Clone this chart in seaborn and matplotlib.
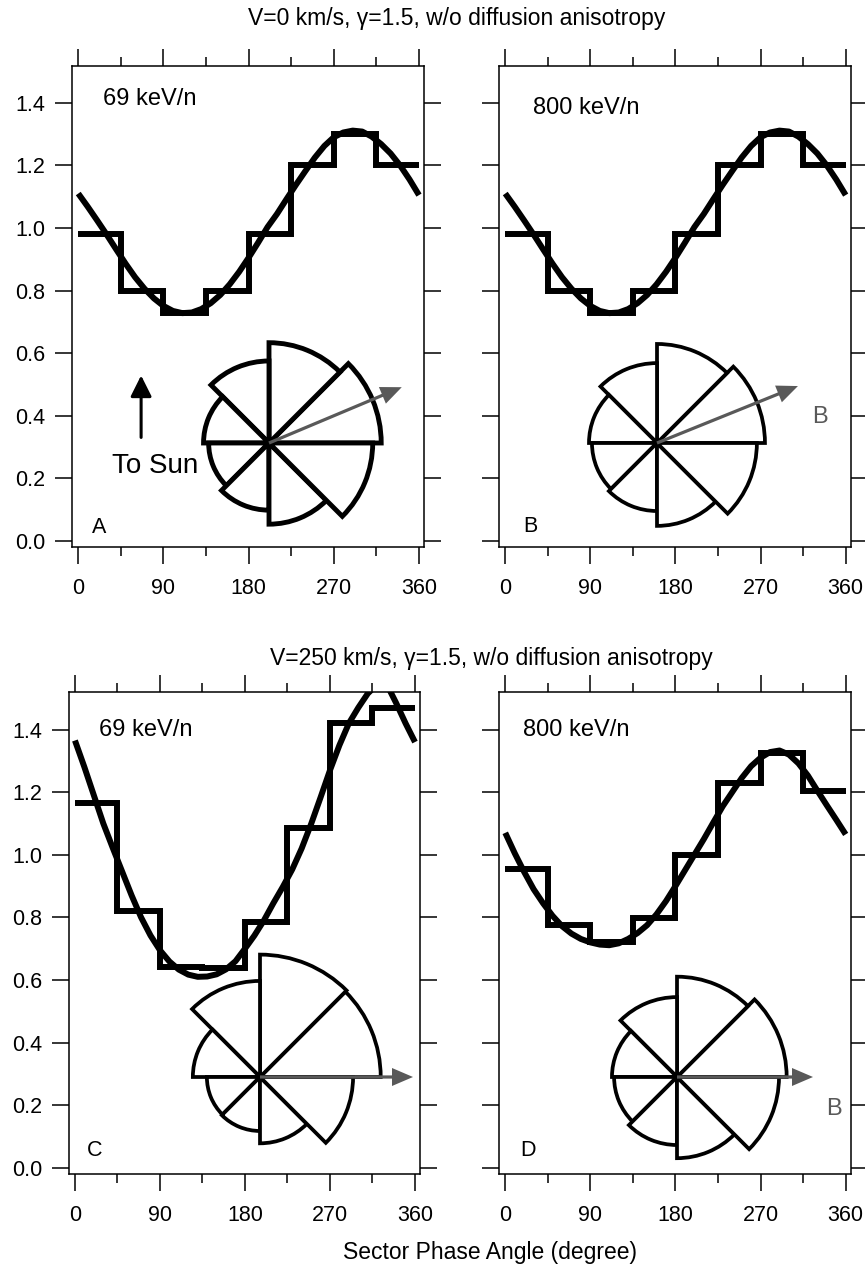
import matplotlib
matplotlib.use("Agg")
import matplotlib.pyplot as plt
import seaborn as sns
import numpy as np
from matplotlib.patches import Wedge
from matplotlib.ticker import FixedLocator

sns.set_style("ticks", rc={"axes.edgecolor": "black", "xtick.color": "black",
                           "ytick.color": "black", "text.color": "black",
                           "axes.labelcolor": "black"})
plt.rcParams['font.family'] = ['Liberation Sans', 'DejaVu Sans']

# ---------------- data ----------------
sector_edges = [0, 45, 90, 135, 180, 225, 270, 315, 360]
curve_phase = [0, 10, 20, 30, 40, 50, 60, 70, 80, 90, 100, 110, 120, 130, 140,
               150, 160, 170, 180, 190, 200, 210, 220, 230, 240, 250, 260, 270,
               280, 290, 300, 310, 320, 330, 340, 350, 360]
x_major = [0, 90, 180, 270, 360]
x_minor = [45, 135, 225, 315]
y_ticks = [0.0, 0.2, 0.4, 0.6, 0.8, 1.0, 1.2, 1.4]
y_tick_labels = ["0.0", "0.2", "0.4", "0.6", "0.8", "1.0", "1.2", "1.4"]

steps_A = [0.98, 0.80, 0.73, 0.80, 0.98, 1.20, 1.30, 1.20]
steps_B = [0.98, 0.80, 0.73, 0.80, 0.98, 1.20, 1.30, 1.20]
steps_C = [1.165, 0.82, 0.642, 0.637, 0.786, 1.085, 1.42, 1.47]
steps_D = [0.956, 0.775, 0.722, 0.797, 1.00, 1.228, 1.325, 1.205]

curve_A = [1.110, 1.068, 1.024, 0.979, 0.932, 0.886, 0.843, 0.806, 0.775, 0.751,
           0.735, 0.728, 0.730, 0.741, 0.760, 0.786, 0.820, 0.860, 0.905, 0.953,
           1.003, 1.045, 1.092, 1.138, 1.182, 1.225, 1.262, 1.290, 1.305, 1.311,
           1.308, 1.292, 1.268, 1.238, 1.200, 1.155, 1.105]
curve_B = [1.110, 1.068, 1.024, 0.979, 0.932, 0.886, 0.843, 0.806, 0.775, 0.751,
           0.735, 0.728, 0.730, 0.741, 0.760, 0.786, 0.820, 0.860, 0.905, 0.953,
           1.003, 1.045, 1.092, 1.138, 1.182, 1.225, 1.262, 1.290, 1.305, 1.311,
           1.308, 1.292, 1.268, 1.238, 1.200, 1.155, 1.105]
curve_C = [1.365, 1.280, 1.190, 1.100, 1.022, 0.946, 0.870, 0.800, 0.742, 0.695,
           0.659, 0.633, 0.617, 0.610, 0.611, 0.618, 0.634, 0.660, 0.700, 0.742,
           0.790, 0.845, 0.897, 0.953, 1.020, 1.098, 1.183, 1.270, 1.350, 1.420,
           1.470, 1.515, 1.545, 1.545, 1.485, 1.420, 1.360]
curve_D = [1.070, 1.005, 0.945, 0.890, 0.845, 0.805, 0.772, 0.748, 0.731, 0.720,
           0.713, 0.711, 0.717, 0.731, 0.750, 0.775, 0.810, 0.852, 0.900, 0.950,
           1.000, 1.050, 1.103, 1.155, 1.200, 1.245, 1.283, 1.310, 1.328, 1.333,
           1.320, 1.292, 1.253, 1.205, 1.158, 1.112, 1.065]

# rose diagrams: relative intensity per 45-degree sector, counter-clockwise from east
rose_A = [1.32, 1.18, 0.965, 0.77, 0.71, 0.79, 0.955, 1.22]
rose_B = [1.27, 1.165, 0.94, 0.80, 0.765, 0.80, 0.975, 1.175]
rose_C = [1.42, 1.44, 1.13, 0.79, 0.625, 0.635, 0.78, 1.095]
rose_D = [1.29, 1.18, 0.94, 0.765, 0.74, 0.80, 0.955, 1.20]
b_angle = [22.8, 22.0, 0.0, 0.0]   # IMF direction (deg) in each rose

panel_energy = ["69 keV/n", "800 keV/n", "69 keV/n", "800 keV/n"]
panel_letter = ["A", "B", "C", "D"]
row_titles = ["V=0 km/s, γ=1.5, w/o diffusion anisotropy",
              "V=250 km/s, γ=1.5, w/o diffusion anisotropy"]
x_label = "Sector Phase Angle (degree)"

# ---------------- layout ----------------
W, H = 865, 1269
fig = plt.figure(figsize=(W / 100, H / 100), dpi=100)


def px_axes(l, t, r, b):
    return fig.add_axes([l / W, 1 - b / H, (r - l) / W, (b - t) / H])


panel_box = [(72.3, 65.5, 424, 547), (499.3, 65.5, 850.7, 547),
             (69, 692.3, 420, 1173.7), (499.3, 692.3, 850.7, 1173.7)]
rose_center = [(269, 443), (657, 443), (260, 1077), (677, 1077)]
arrow_len = [144, 152, 153, 136]
rose_lw = [3.5, 2.7, 2.7, 2.7]
energy_pos = [(26, 1.412), (29.6, 1.382), (25.5, 1.398), (19, 1.40)]
letter_pos = [(14.5, 0.042), (19, 0.048), (12.3, 0.055), (15.8, 0.055)]
SCALE = 85.0  # px per unit intensity in rose
GRAY = "#595959"

steps = [steps_A, steps_B, steps_C, steps_D]
curves = [curve_A, curve_B, curve_C, curve_D]
roses = [rose_A, rose_B, rose_C, rose_D]

LW = 4.3
for i in range(4):
    ax = px_axes(*panel_box[i])
    sx = sector_edges
    sy = steps[i] + [steps[i][-1]]
    sns.lineplot(x=sx, y=sy, ax=ax, color="black", lw=LW, drawstyle="steps-post",
                 estimator=None, sort=False, errorbar=None,
                 solid_joinstyle="miter", solid_capstyle="butt")
    sns.lineplot(x=curve_phase, y=curves[i], ax=ax, color="black", lw=LW,
                 estimator=None, sort=False, errorbar=None,
                 solid_joinstyle="round", solid_capstyle="butt")
    ax.set_xlim(-6.3, 365.3)
    ax.set_ylim(-0.019, 1.519)
    ax.set_xticks(x_major)
    ax.set_xticklabels([str(v) for v in x_major])
    ax.xaxis.set_minor_locator(FixedLocator(x_minor))
    ax.set_yticks(y_ticks)
    ax.set_yticklabels(y_tick_labels)
    ax.tick_params(which="both", direction="out", top=True, right=True,
                   labeltop=False, labelright=False, width=1.1, labelsize=15.5,
                   labelleft=(i % 2 == 0))
    ax.tick_params(which="major", length=12.5)
    ax.tick_params(which="minor", length=6.5)
    ax.tick_params(axis="x", pad=10)
    ax.tick_params(axis="y", pad=7)
    for s in ax.spines.values():
        s.set_linewidth(1.1)
        s.set_visible(True)
    ax.set_xlabel("")
    ax.set_ylabel("")
    ax.text(*energy_pos[i], panel_energy[i], fontsize=17, ha="left", va="center")
    ax.text(*letter_pos[i], panel_letter[i], fontsize=15.5, ha="left", va="center")

    if i == 0:
        ax.annotate("", xy=(66.4, 0.529), xytext=(66.4, 0.331),
                    arrowprops=dict(arrowstyle="-|>", color="black", lw=2.2,
                                    mutation_scale=32, shrinkA=0, shrinkB=0))
        ax.text(81.2, 0.239, "To Sun", fontsize=20, ha="center", va="center")

    # rose inset (1 data unit = 1 pixel)
    cx, cy = rose_center[i]
    S = 380
    iax = fig.add_axes([(cx - S / 2) / W, 1 - (cy + S / 2) / H, S / W, S / H])
    iax.set_xlim(-S / 2, S / 2)
    iax.set_ylim(-S / 2, S / 2)
    iax.axis("off")
    iax.patch.set_alpha(0)
    for k, v in enumerate(roses[i]):
        iax.add_patch(Wedge((0, 0), v * SCALE, 45 * k, 45 * (k + 1),
                            facecolor="white", edgecolor="black",
                            lw=rose_lw[i], joinstyle="miter", zorder=2))
    a = np.deg2rad(b_angle[i])
    L = arrow_len[i]
    iax.arrow(0, 0, L * np.cos(a), L * np.sin(a), width=3.2, head_width=18,
              head_length=21, length_includes_head=True, color=GRAY, lw=0, zorder=3)
    if i == 1:
        iax.text(163, 26, "B", fontsize=17, color=GRAY, ha="center", va="center")
    if i == 3:
        iax.text(156.6, -31.7, "B", fontsize=17, color=GRAY, ha="center", va="center")

fig.text(457 / W, 1 - 18 / H, row_titles[0], fontsize=16.5, ha="center", va="center")
fig.text(491 / W, 1 - 659 / H, row_titles[1], fontsize=16.5, ha="center", va="center")
fig.text(490 / W, 1 - 1252 / H, x_label, fontsize=16.5, ha="center", va="center")

fig.savefig("out.png", dpi=100)
